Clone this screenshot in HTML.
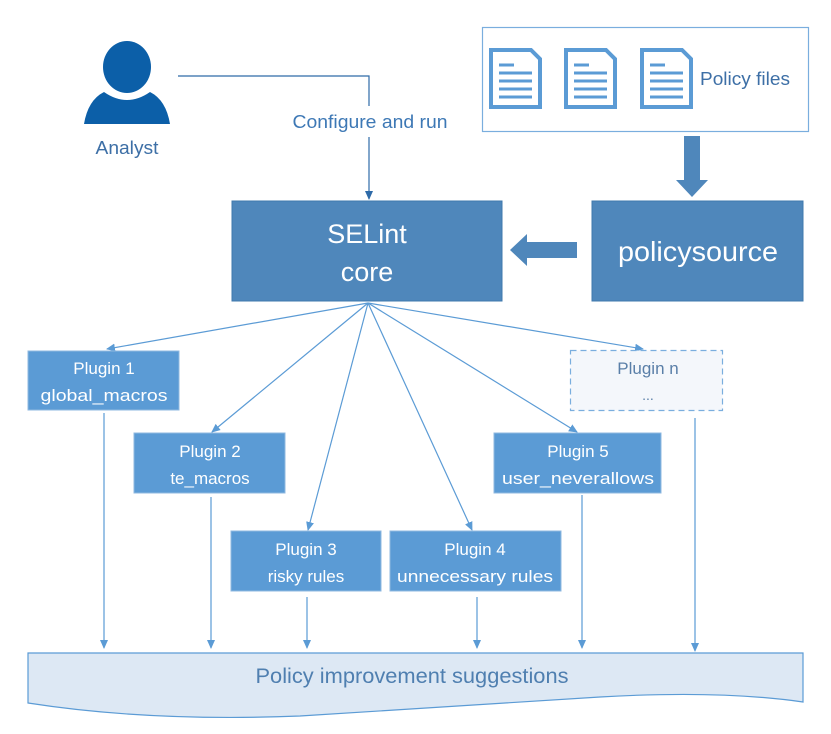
<!DOCTYPE html>
<html><head><meta charset="utf-8"><style>
html,body{margin:0;padding:0;background:#fff;}
svg{display:block;}
text{font-family:"Liberation Sans",sans-serif;}
</style></head><body>
<svg width="831" height="734" viewBox="0 0 831 734" xmlns="http://www.w3.org/2000/svg">
<defs>
<marker id="a" markerWidth="10" markerHeight="10" refX="8" refY="5" orient="auto" markerUnits="userSpaceOnUse">
<path d="M0,1 L9,5 L0,9 Z" fill="#5b9bd5"/></marker>
<marker id="b" markerWidth="10" markerHeight="10" refX="8" refY="5" orient="auto" markerUnits="userSpaceOnUse">
<path d="M0,1 L9,5 L0,9 Z" fill="#2e6aa8"/></marker>
</defs>
<!-- Analyst -->
<path d="M84,124 Q88,100 104,92 Q127,108 150,92 Q166,100 170,124 Z" fill="#0c5fa8"/>
<ellipse cx="127" cy="67" rx="26" ry="28" fill="#fff"/>
<ellipse cx="127" cy="67" rx="24" ry="26" fill="#0c5fa8"/>
<text x="127" y="154" font-size="18" fill="#3d6fa6" text-anchor="middle" textLength="63" lengthAdjust="spacingAndGlyphs">Analyst</text>
<path d="M178,76 L369,76 L369,106" fill="none" stroke="#2e6aa8" stroke-width="1.2"/>
<path d="M369,137 L369,199" fill="none" stroke="#2e6aa8" stroke-width="1.2" marker-end="url(#b)"/>
<text x="370" y="128" font-size="18" fill="#3d78b5" text-anchor="middle" textLength="155" lengthAdjust="spacingAndGlyphs">Configure and run</text>
<!-- Policy files -->
<rect x="482.5" y="27.5" width="326" height="104" fill="#fff" stroke="#7aaede" stroke-width="1.2"/>
<g fill="#fff" stroke="#5b9bd5" stroke-width="4">
<path d="M491,50 L531,50 L540,59 L540,107 L491,107 Z"/>
<path d="M566,50 L606,50 L615,59 L615,107 L566,107 Z"/>
<path d="M642,50 L682,50 L691,59 L691,107 L642,107 Z"/>
</g>
<g stroke="#5b9bd5" stroke-width="3">
<path d="M499,65h15M499,73h33M499,81h33M499,89h33M499,97h33"/>
<path d="M574,65h15M574,73h33M574,81h33M574,89h33M574,97h33"/>
<path d="M650,65h15M650,73h33M650,81h33M650,89h33M650,97h33"/>
</g>
<text x="745" y="85" font-size="18" fill="#3d6fa6" text-anchor="middle" textLength="90" lengthAdjust="spacingAndGlyphs">Policy files</text>
<!-- thick arrows -->
<path d="M684,136 L700,136 L700,180 L708,180 L692,197 L676,180 L684,180 Z" fill="#4f87bb"/>
<path d="M577,242 L527,242 L527,234 L510,250 L527,266 L527,258 L577,258 Z" fill="#4f87bb"/>
<!-- core -->
<rect x="232" y="201" width="270" height="100" fill="#4f87bb" stroke="#3f78ad"/>
<text x="367" y="243" font-size="27" fill="#fff" text-anchor="middle">SELint</text>
<text x="367" y="281" font-size="27" fill="#fff" text-anchor="middle">core</text>
<rect x="592" y="201" width="211" height="100" fill="#4f87bb" stroke="#3f78ad"/>
<text x="698" y="261" font-size="28" fill="#fff" text-anchor="middle" textLength="160" lengthAdjust="spacingAndGlyphs">policysource</text>
<!-- fan -->
<g stroke="#5b9bd5" stroke-width="1.2" fill="none">
<path d="M368,303 L107,349" marker-end="url(#a)"/>
<path d="M368,303 L212,432" marker-end="url(#a)"/>
<path d="M368,303 L308,530" marker-end="url(#a)"/>
<path d="M368,303 L472,530" marker-end="url(#a)"/>
<path d="M368,303 L577,432" marker-end="url(#a)"/>
<path d="M368,303 L643,349" marker-end="url(#a)"/>
<path d="M104,413 L104,648" marker-end="url(#a)"/>
<path d="M211,497 L211,648" marker-end="url(#a)"/>
<path d="M307,597 L307,648" marker-end="url(#a)"/>
<path d="M477,597 L477,648" marker-end="url(#a)"/>
<path d="M582,495 L582,648" marker-end="url(#a)"/>
<path d="M695,418 L695,651" marker-end="url(#a)"/>
</g>
<!-- plugins -->
<g fill="#5b9bd5" stroke="#8fb8e0">
<rect x="28" y="351" width="151" height="59"/>
<rect x="134" y="433" width="151" height="60"/>
<rect x="231" y="531" width="150" height="60"/>
<rect x="390" y="531" width="171" height="60"/>
<rect x="494" y="433" width="167" height="60"/>
</g>
<rect x="570.5" y="350.5" width="152" height="60" fill="#f4f7fb" stroke="#7aaede" stroke-dasharray="6,4" stroke-width="1.2"/>
<g font-size="17" fill="#fff" text-anchor="middle" lengthAdjust="spacingAndGlyphs">
<text x="104" y="374">Plugin 1</text><text x="104" y="401" textLength="127" lengthAdjust="spacingAndGlyphs">global_macros</text>
<text x="210" y="457">Plugin 2</text><text x="210" y="484">te_macros</text>
<text x="306" y="555">Plugin 3</text><text x="306" y="582">risky rules</text>
<text x="475" y="555">Plugin 4</text><text x="475" y="582" textLength="156" lengthAdjust="spacingAndGlyphs">unnecessary rules</text>
<text x="578" y="457">Plugin 5</text><text x="578" y="484" textLength="152" lengthAdjust="spacingAndGlyphs">user_neverallows</text>
</g>
<text x="648" y="374" font-size="17" fill="#5a7fa8" text-anchor="middle">Plugin n</text>
<text x="648" y="400" font-size="14" fill="#5a7fa8" text-anchor="middle">...</text>
<!-- bottom -->
<path d="M28,653 L803,653 L803,702 Q720,690 600,697 Q420,708 300,716 Q150,722 28,703 Z" fill="#dde8f4" stroke="#5b9bd5" stroke-width="1.2"/>
<text x="412" y="683" font-size="21" fill="#4f7fb0" text-anchor="middle" textLength="313" lengthAdjust="spacingAndGlyphs">Policy improvement suggestions</text>
</svg>
</body></html>
